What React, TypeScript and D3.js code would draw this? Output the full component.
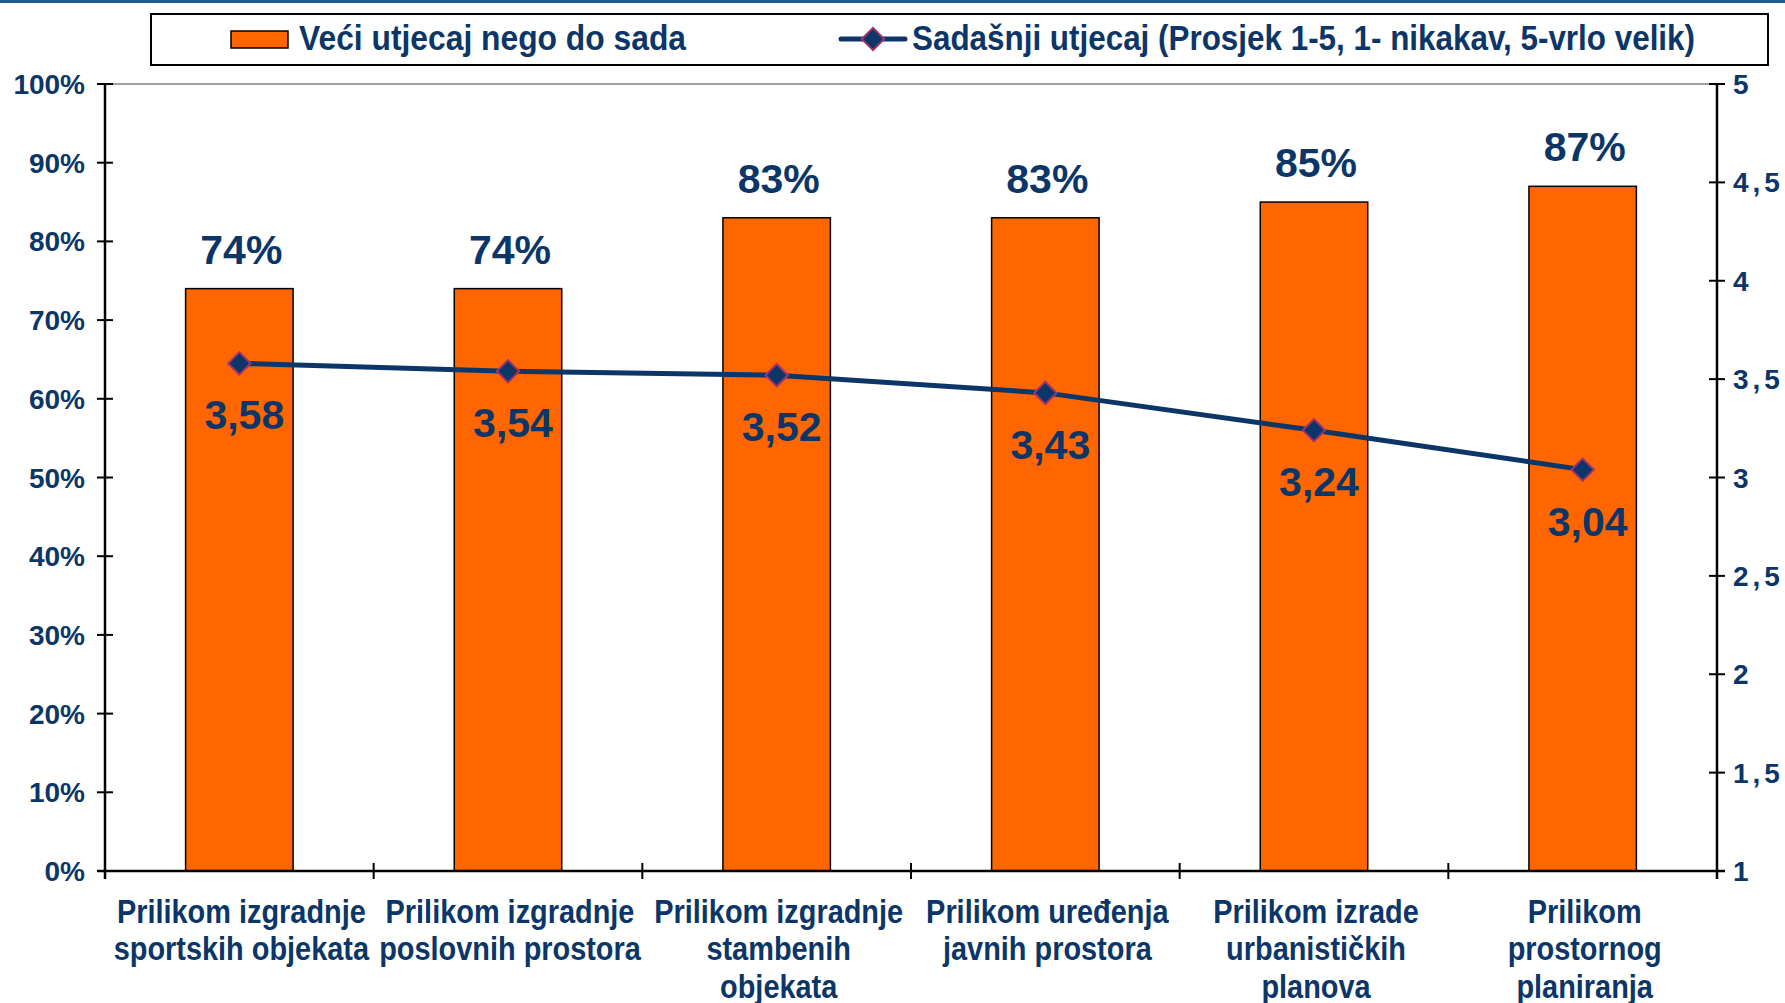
import React from "react";
import * as d3 from "d3";

const categories = [
  ["Prilikom izgradnje", "sportskih objekata"],
  ["Prilikom izgradnje", "poslovnih prostora"],
  ["Prilikom izgradnje", "stambenih", "objekata"],
  ["Prilikom uređenja", "javnih prostora"],
  ["Prilikom izrade", "urbanističkih", "planova"],
  ["Prilikom", "prostornog", "planiranja"],
];
const barValues = [74, 74, 83, 83, 85, 87];
const lineValues = [3.58, 3.54, 3.52, 3.43, 3.24, 3.04];
const leftTicks = [0, 10, 20, 30, 40, 50, 60, 70, 80, 90, 100];
const rightTicks = [1, 1.5, 2, 2.5, 3, 3.5, 4, 4.5, 5];
const barLegend = "Veći utjecaj nego do sada";
const lineLegend = "Sadašnji utjecaj (Prosjek 1-5, 1- nikakav, 5-vrlo velik)";

const W = 1785;
const H = 1003;
const NAVY = "#0B3667";
const ORANGE = "#FF6600";
const wide = "'Liberation Sans', Arial, sans-serif";

export default function App() {
  const left = 105;
  const right = 1717;
  const top = 84;
  const bottom = 871;
  const idx = categories.map((_, i) => String(i));
  const x = d3.scaleBand<string>().domain(idx).range([left, right]).padding(0);
  const yL = d3.scaleLinear().domain([0, 100]).range([bottom, top]);
  const yR = d3.scaleLinear().domain([1, 5]).range([bottom, top]);
  const bw = x.bandwidth() * 0.4;
  const cx = (i: number) => (x(String(i)) as number) + x.bandwidth() / 2;
  const line = d3
    .line<number>()
    .x((_, i) => cx(i))
    .y((d) => yR(d));
  const diamond = d3.symbol().type(d3.symbolSquare).size(250)();
  const fmt = (v: number) => v.toFixed(2).replace(".", ",");
  const fmtR = (v: number) => String(v).replace(".", ",");
  const boundaries = d3.range(categories.length + 1).map((i) => left + i * x.step());

  return (
    <svg width={W} height={H} style={{ position: "absolute", left: 0, top: 0, background: "#fff" }}>
      <rect x={0} y={0} width={W} height={H} fill="#fff" />
      <line x1={0} x2={W} y1={1.5} y2={1.5} stroke="#1F5C8B" strokeWidth={3} />
      {/* legend */}
      <rect x={151} y={14} width={1617} height={51} fill="#fff" stroke="#000" strokeWidth={2} />
      <rect x={231} y={31} width={57} height={17} fill={ORANGE} stroke="#000" strokeWidth={1.5} />
      <text
        x={299}
        y={50}
        fill={NAVY}
        fontFamily={wide}
        fontWeight="bold"
        fontSize={35}
        textLength={387}
        lengthAdjust="spacingAndGlyphs"
      >
        {barLegend}
      </text>
      <line x1={841} x2={905} y1={39} y2={39} stroke={NAVY} strokeWidth={5} strokeLinecap="round" />
      <path d={diamond} transform={`translate(873,39) rotate(45)`} fill={NAVY} stroke="#A0346A" strokeWidth={2} />
      <text
        x={912}
        y={50}
        fill={NAVY}
        fontFamily={wide}
        fontWeight="bold"
        fontSize={35}
        textLength={783}
        lengthAdjust="spacingAndGlyphs"
      >
        {lineLegend}
      </text>

      {/* top gridline */}
      <line x1={left} x2={right} y1={top} y2={top} stroke="#A0A0A0" strokeWidth={2} />

      {/* bars */}
      {barValues.map((v, i) => (
        <g key={i}>
          <rect
            x={cx(i) - bw / 2}
            y={yL(v)}
            width={bw}
            height={bottom - yL(v)}
            fill={ORANGE}
            stroke="#000"
            strokeWidth={1.5}
          />
          <text
            x={cx(i) + 2}
            y={yL(v) - 25}
            textAnchor="middle"
            fill={NAVY}
            fontFamily={wide}
            fontWeight="bold"
            fontSize={41}
          >
            {v}%
          </text>
        </g>
      ))}

      {/* axes */}
      <line x1={left} x2={left} y1={top} y2={bottom + 8} stroke="#000" strokeWidth={2.5} />
      <line x1={right} x2={right} y1={top} y2={bottom + 8} stroke="#000" strokeWidth={2.5} />
      <line x1={left - 8} x2={right + 8} y1={bottom} y2={bottom} stroke="#000" strokeWidth={2.5} />
      {leftTicks.map((t) => (
        <g key={"l" + t}>
          <line x1={left - 8} x2={left + 8} y1={yL(t)} y2={yL(t)} stroke="#000" strokeWidth={2} />
          <text
            x={85}
            y={yL(t) + 10}
            textAnchor="end"
            fill={NAVY}
            fontFamily={wide}
            fontWeight="bold"
            fontSize={28}
          >
            {t}%
          </text>
        </g>
      ))}
      {rightTicks.map((t) => (
        <g key={"r" + t}>
          <line x1={right - 8} x2={right + 8} y1={yR(t)} y2={yR(t)} stroke="#000" strokeWidth={2} />
          <text x={1733} y={yR(t) + 10} fill={NAVY} fontFamily={wide} fontWeight="bold" fontSize={28} letterSpacing={4}>
            {fmtR(t)}
          </text>
        </g>
      ))}
      {boundaries.map((bx, i) => (
        <line key={"b" + i} x1={bx} x2={bx} y1={bottom - 8} y2={bottom + 8} stroke="#000" strokeWidth={2} />
      ))}

      {/* category labels */}
      {categories.map((lines, i) => (
        <g key={"c" + i} transform={`translate(${cx(i) + 2},0) scale(0.85,1)`}>
          <text textAnchor="middle" fill={NAVY} fontFamily={wide} fontWeight="bold" fontSize={34}>
            {lines.map((l, j) => (
              <tspan key={j} x={0} y={923 + j * 37.5}>
                {l}
              </tspan>
            ))}
          </text>
        </g>
      ))}

      {/* line series */}
      <path d={line(lineValues) || ""} fill="none" stroke={NAVY} strokeWidth={5} />
      {lineValues.map((v, i) => (
        <g key={"p" + i}>
          <path
            d={diamond}
            transform={`translate(${cx(i)},${yR(v)}) rotate(45)`}
            fill={NAVY}
            stroke="#A0346A"
            strokeWidth={2}
          />
          <text
            x={cx(i) + 5}
            y={yR(v) + 66}
            textAnchor="middle"
            fill={NAVY}
            fontFamily={wide}
            fontWeight="bold"
            fontSize={41}
          >
            {fmt(v)}
          </text>
        </g>
      ))}
    </svg>
  );
}
